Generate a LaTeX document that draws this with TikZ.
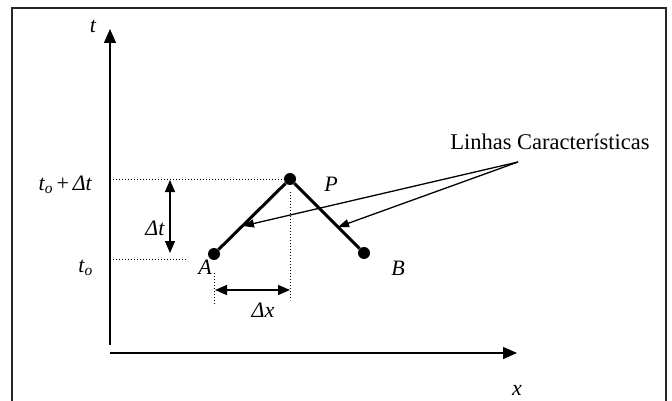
\documentclass[tikz,border=0pt]{standalone}
\usepackage{fontspec}
\setmainfont{Liberation Serif}
\usetikzlibrary{arrows.meta}
\begin{document}
\begin{tikzpicture}[x=1pt,y=-1pt,
  frame/.style={line width=2.8pt,draw=black!85},
  axis/.style={line width=1.4pt,-{Triangle[length=14pt,width=12pt]}},
  charline/.style={line width=3pt},
  dot/.style={circle,fill=black,inner sep=0pt,minimum size=12pt},
  guide/.style={line width=1pt,dotted},
  dim/.style={line width=1.4pt,{Triangle[length=12pt,width=10pt]}-{Triangle[length=12pt,width=10pt]}},
  leader/.style={line width=1.3pt,-{Triangle[length=11pt,width=8pt]}},
  lbl/.style={font=\fontsize{22}{25}\selectfont\itshape,inner sep=0pt},
  note/.style={font=\fontsize{22.5}{26}\selectfont,inner sep=0pt}]
\useasboundingbox (0,0) rectangle (672,401);
\draw[frame] (12,404) -- (12,8) -- (666,8) -- (666,404);
% axes
\coordinate (tbot) at (110,345);
\coordinate (ttop) at (110,29);
\coordinate (xl) at (110,353);
\coordinate (xr) at (517,353);
\draw[axis] (tbot) -- (ttop);
\draw[axis] (xl) -- (xr);
\node[lbl] (tlab) at (93,26) {t};
\node[lbl] (xlab) at (517,390) {x};
% points
\node[dot] (A) at (214,254) {};
\node[dot] (P) at (290,179) {};
\node[dot] (B) at (364,253) {};
\draw[charline] (A) -- (P) -- (B);
\node[lbl] (Alab) at (205,267) {A};
\node[lbl] (Plab) at (331,184) {P};
\node[lbl] (Blab) at (398,268) {B};
% guides
\coordinate (g1a) at (110,179);
\coordinate (g2a) at (110,259);
\coordinate (g2b) at (187,259);
\coordinate (g3a) at (290,192);
\coordinate (g3b) at (290,300);
\coordinate (g4a) at (214,273);
\coordinate (g4b) at (214,306);
\draw[guide] (g1a) -- (P.center);
\draw[guide] (g2a) -- (g2b);
\draw[guide] (g3a) -- (g3b);
\draw[guide] (g4a) -- (g4b);
% dimensions
\coordinate (dt1) at (170,180);
\coordinate (dt2) at (170,253);
\coordinate (dx1) at (215,290);
\coordinate (dx2) at (290,290);
\draw[dim] (dt1) -- (dt2);
\draw[dim] (dx1) -- (dx2);
\node[lbl] (dtlab) at (155,228) {Δt};
\node[lbl] (dxlab) at (263,310) {Δx};
\node[lbl,anchor=east] (tolab) at (93,268) {t\textsubscript{o}};
\node[lbl,anchor=east] (todtlab) at (92,185) {t\textsubscript{o}\,\upshape+\,\itshape Δt};
% leaders
\node[note] (linhas) at (550,142) {Linhas Características};
\coordinate (src) at (518,162);
\coordinate (h1) at (243,226);
\coordinate (h2) at (338,227);
\draw[leader] (src) -- (h1);
\draw[leader] (src) -- (h2);
\end{tikzpicture}
\end{document}
